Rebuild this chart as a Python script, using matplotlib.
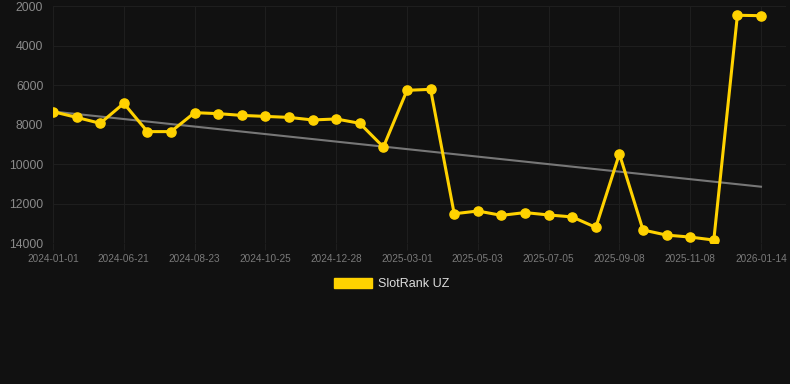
import numpy as np
import matplotlib.pyplot as plt
from matplotlib.patches import Patch

# Rank values per snapshot (lower is better, axis is reversed)
ranks = [7350, 7640, 7940, 6930, 8360, 8360, 7400, 7450, 7540, 7590, 7640,
         7770, 7720, 7940, 9140, 6270, 6220, 12520, 12380, 12600, 12460,
         12580, 12680, 13210, 9490, 13340, 13600, 13700, 13850, 2470, 2490]
# Labels shown on every third category
tick_labels = ['2024-01-01', '2024-06-21', '2024-08-23', '2024-10-25', '2024-12-28',
               '2025-03-01', '2025-05-03', '2025-07-05', '2025-09-08', '2025-11-08',
               '2026-01-14']
y_ticks = [2000, 4000, 6000, 8000, 10000, 12000, 14000]

bg = '#111111'
gold = '#FFD200'

fig = plt.figure(figsize=(7.9, 3.84), dpi=100, facecolor=bg)
ax = fig.add_axes([53 / 790, 1 - 243 / 384, (786 - 53) / 790, (243 - 6) / 384])
ax.set_facecolor(bg)

x = np.arange(len(ranks))

# Linear trend
coef = np.polyfit(x, ranks, 1)
ax.plot(x, np.polyval(coef, x), color='#777777', linewidth=1.5, zorder=2)

ax.plot(x, ranks, color=gold, linewidth=2.2, marker='o', markersize=6.6,
        markerfacecolor=gold, markeredgecolor=gold, zorder=3)

ax.set_ylim(14000, 2000)
ax.set_xlim(0, (786 - 53) / 23.6)
ax.set_yticks(y_ticks)
ax.set_yticklabels([str(v) for v in y_ticks], fontsize=8.8, color='#8a8a8a',
                   family='Liberation Sans')
ax.set_xticks(x[::3])
ax.set_xticklabels(tick_labels, fontsize=7.2, color='#7a7a7a',
                   family='Liberation Sans')

ax.grid(True, color='#1e1e1e', linewidth=0.8)
ax.tick_params(axis='y', length=0, pad=7)
ax.tick_params(axis='x', length=5, color='#1e1e1e', pad=3)
for s in ax.spines.values():
    s.set_visible(False)

fig.legend(handles=[Patch(facecolor=gold, edgecolor=gold, label='SlotRank UZ')],
           loc='center', bbox_to_anchor=(392 / 790, 1 - 284 / 384), frameon=False,
           handlelength=3.0, handleheight=0.9, handletextpad=0.5,
           prop={'family': 'Liberation Sans', 'size': 9}, labelcolor='#dddddd')

fig.savefig('out.png', dpi=100, facecolor=bg)
